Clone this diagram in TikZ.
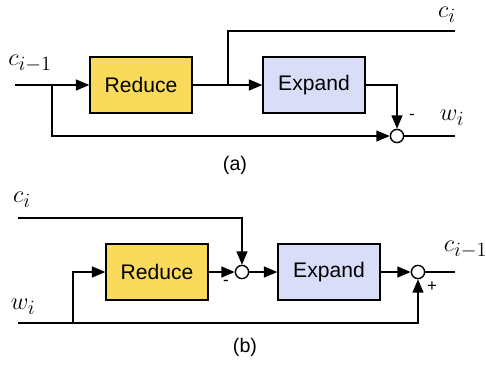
\documentclass[tikz,border=0pt]{standalone}
\usepackage{amssymb, amsmath}
\usepackage{fontspec}
\setsansfont{Liberation Sans}
\usepackage{tikz}
\usetikzlibrary{arrows,positioning}

\definecolor{redfill}{RGB}{249,218,91}
\definecolor{expfill}{RGB}{217,221,247}

\begin{document}
\begin{tikzpicture}[> = triangle 45, x = 0.025cm, y = -0.025cm, line width = 1.2pt,
    every node/.style = {font = \fontsize{19}{22}\selectfont},
    block/.style = {draw, line width = 1pt, minimum width = 2.55cm, minimum height = 1.4cm, font = \sffamily\fontsize{15}{18}\selectfont},
    sumnode/.style = {draw, circle, fill = white, line width = 1pt, minimum size = 0.33cm, inner sep = 0pt},
    sign/.style = {font = \sffamily\fontsize{12}{14}\selectfont, inner sep = 0pt}]
    \useasboundingbox (0,0) rectangle (486,364);
    % (a)
    \node at (141,85) [block, fill = redfill] (red1) {Reduce};
    \node at (314,85) [block, fill = expfill] (exp1) {Expand};
    \node at (397,136) [sumnode] (sum1) {};
    \coordinate (in1) at (15,85);
    \coordinate (br1) at (52,85);
    \coordinate (tap1) at (228,85);
    \coordinate (ci1) at (455,31);
    \coordinate (wi1) at (455,136);
    \node at (30,64) (lcin1) {$c_{i-1}$};
    \node at (447,15) (lci1) {$c_i$};
    \node at (452,118) (lwi1) {$w_i$};
    \node at (412,117) [sign] (min1) {-};
    \node at (235,165) [font = \sffamily\fontsize{14}{16}\selectfont] (capa) {(a)};
    \draw[->] (in1) -- (red1.west);
    \draw[->] (br1) |- (sum1.west);
    \draw[->] (red1.east) -- (exp1.west);
    \draw (tap1) |- (ci1);
    \draw[->] (exp1.east) -| (sum1.north);
    \draw (sum1.east) -- (wi1);
    % (b)
    \node at (157,272) [block, fill = redfill] (red2) {Reduce};
    \node at (329,272) [block, fill = expfill] (exp2) {Expand};
    \node at (242,272) [sumnode] (sum2) {};
    \node at (418,272) [sumnode] (sum3) {};
    \coordinate (ci2) at (18,218);
    \coordinate (wi2) at (18,323);
    \coordinate (br2) at (73,323);
    \coordinate (cout2) at (455,272);
    \node at (22,200) (lci2) {$c_i$};
    \node at (23,307) (lwi2) {$w_i$};
    \node at (443,250) [anchor = west, inner sep = 0pt] (lcout2) {$c_{i-1}$};
    \node at (226,283) [sign] (min2) {-};
    \node at (432,287) [sign] (plus2) {+};
    \node at (245,347) [font = \sffamily\fontsize{14}{16}\selectfont] (capb) {(b)};
    \draw[->] (ci2) -| (sum2.north);
    \draw[->] (br2) |- (red2.west);
    \draw[->] (red2.east) -- (sum2.west);
    \draw[->] (sum2.east) -- (exp2.west);
    \draw[->] (exp2.east) -- (sum3.west);
    \draw (sum3.east) -- (cout2);
    \draw[->] (wi2) -| (sum3.south);
\end{tikzpicture}
\end{document}
